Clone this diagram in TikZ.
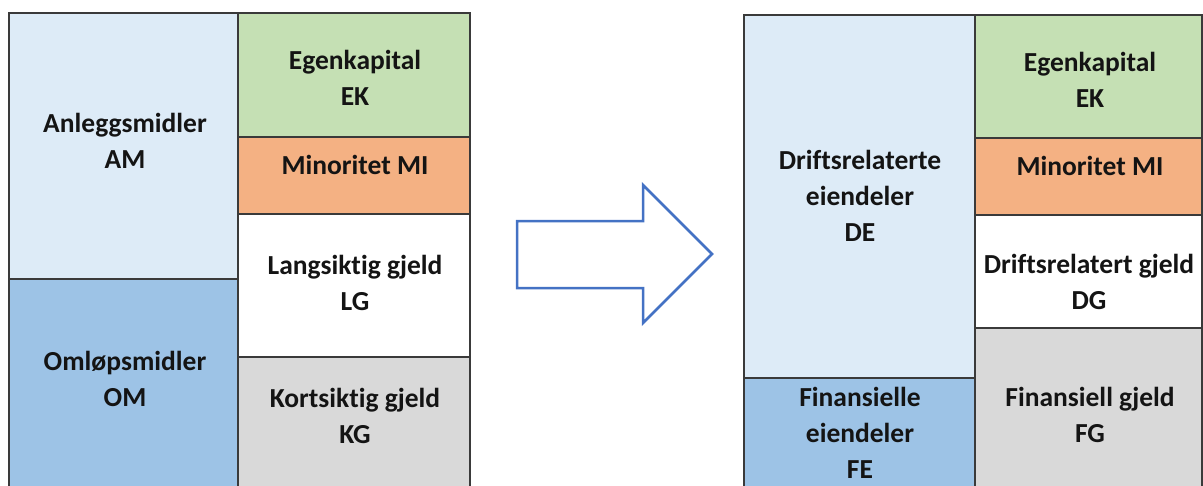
\documentclass[tikz,border=0pt]{standalone}
\usepackage{fontspec}
\setmainfont{Carlito}[Ligatures=NoCommon]
\definecolor{edge}{HTML}{3A3A3A}
\definecolor{lightblue}{HTML}{DDEBF7}
\definecolor{midblue}{HTML}{9DC3E6}
\definecolor{lightgreen}{HTML}{C5E0B4}
\definecolor{peach}{HTML}{F4B183}
\definecolor{lightgrey}{HTML}{D9D9D9}
\definecolor{arrowblue}{HTML}{4472C4}
\begin{document}
\begin{tikzpicture}[x=1pt,y=-1pt,
  cell/.style={draw=edge, line width=1.6pt, inner sep=0pt, outer sep=0pt, anchor=north west},
  lbl/.style={font=\bfseries\fontsize{27.5}{36}\selectfont, align=center, text=black!92, inner sep=0pt},
]
\useasboundingbox (0,0) rectangle (1203,485);
\clip (0,0) rectangle (1203,485);

% balance sheet before the split
\node[cell, fill=lightblue,  minimum width=229pt, minimum height=266pt] (am) at (9,13) {};
\node[cell, fill=midblue,    minimum width=229pt, minimum height=216pt] (om) at (9,279) {};
\node[cell, fill=lightgreen, minimum width=232pt, minimum height=124pt] (ek1) at (238,13) {};
\node[cell, fill=peach,      minimum width=232pt, minimum height=77pt]  (mi1) at (238,137) {};
\node[cell, fill=white,      minimum width=232pt, minimum height=143pt] (lg) at (238,214) {};
\node[cell, fill=lightgrey,  minimum width=232pt, minimum height=138pt] (kg) at (238,357) {};

\node[lbl] (tam)  at (125,141)   {Anleggsmidler\\AM};
\node[lbl] (tom)  at (125,379)   {Omløpsmidler\\OM};
\node[lbl] (tek1) at (355,78)    {Egenkapital\\EK};
\node[lbl] (tmi1) at (355,165)   {Minoritet MI};
\node[lbl] (tlg)  at (355,283)   {Langsiktig gjeld\\LG};
\node[lbl] (tkg)  at (355,415.5) {Kortsiktig gjeld\\KG};

% block arrow
\draw[arrowblue, line width=2.5pt, fill=white, line join=miter]
  (517,221) -- (643,221) -- (643,185) -- (712,254) -- (643,323) -- (643,288) -- (517,288) -- cycle;

% balance sheet after the split
\node[cell, fill=lightblue,  minimum width=231pt, minimum height=363pt] (de) at (744,15) {};
\node[cell, fill=midblue,    minimum width=231pt, minimum height=117pt] (fe) at (744,378) {};
\node[cell, fill=lightgreen, minimum width=227pt, minimum height=123pt] (ek2) at (975,15) {};
\node[cell, fill=peach,      minimum width=227pt, minimum height=77pt]  (mi2) at (975,138) {};
\node[cell, fill=white,      minimum width=227pt, minimum height=113pt] (dg) at (975,215) {};
\node[cell, fill=lightgrey,  minimum width=227pt, minimum height=167pt] (fg) at (975,328) {};

\node[lbl] (tde)  at (860,196)  {Driftsrelaterte\\eiendeler\\DE};
\node[lbl] (tfe)  at (860,433)  {Finansielle\\eiendeler\\FE};
\node[lbl] (tek2) at (1090,80)  {Egenkapital\\EK};
\node[lbl] (tmi2) at (1090,166) {Minoritet MI};
\node[lbl] (tdg)  at (1089,282) {Driftsrelatert gjeld\\DG};
\node[lbl] (tfg)  at (1090,415) {Finansiell gjeld\\FG};
\end{tikzpicture}
\end{document}
